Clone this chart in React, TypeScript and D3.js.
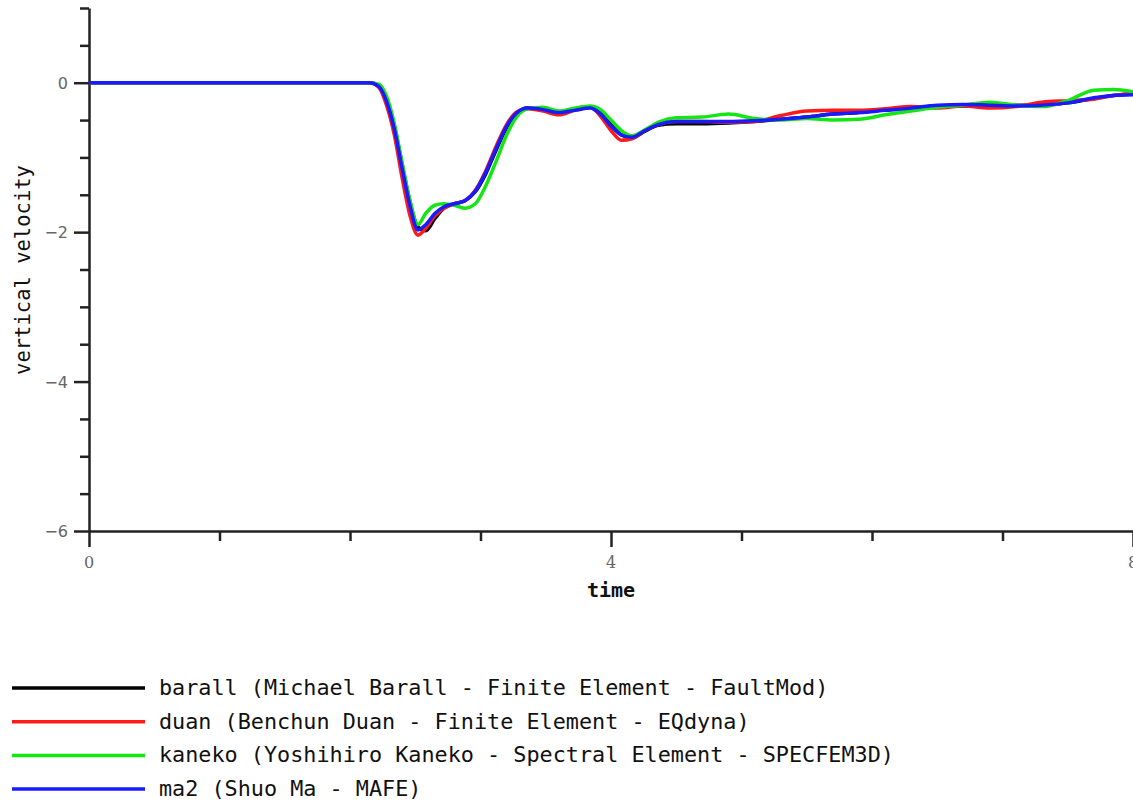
import * as d3 from "d3";
import React from "react";

// time samples shared by all four stations
const times = [
  0, 2.15, 2.22, 2.28, 2.34, 2.4, 2.46, 2.52, 2.58, 2.65, 2.72, 2.8, 2.88, 2.96,
  3.04, 3.12, 3.2, 3.28, 3.36, 3.48, 3.6, 3.72, 3.84, 3.92, 4.0, 4.08, 4.16,
  4.26, 4.36, 4.5, 4.7, 4.9, 5.1, 5.3, 5.5, 5.7, 5.9, 6.1, 6.3, 6.5, 6.7, 6.9,
  7.1, 7.3, 7.5, 7.7, 7.85, 8.0,
];

const barall = [
  0, 0, -0.04, -0.22, -0.58, -1.1, -1.6, -1.93, -1.98, -1.82, -1.68, -1.62,
  -1.58, -1.46, -1.22, -0.9, -0.6, -0.41, -0.34, -0.35, -0.4, -0.36, -0.33,
  -0.4, -0.56, -0.7, -0.74, -0.65, -0.57, -0.55, -0.55, -0.54, -0.52, -0.49,
  -0.46, -0.42, -0.4, -0.36, -0.34, -0.31, -0.31, -0.32, -0.3, -0.3, -0.27,
  -0.21, -0.17, -0.15,
];

const duan = [
  0, 0, -0.06, -0.3, -0.7, -1.28, -1.78, -2.04, -1.95, -1.78, -1.68, -1.62,
  -1.58, -1.44, -1.18, -0.85, -0.56, -0.39, -0.35, -0.38, -0.43, -0.37, -0.33,
  -0.45, -0.64, -0.77, -0.75, -0.64, -0.56, -0.52, -0.52, -0.53, -0.52, -0.44,
  -0.38, -0.37, -0.37, -0.35, -0.32, -0.34, -0.31, -0.34, -0.32, -0.26, -0.24,
  -0.22, -0.17, -0.14,
];

const kaneko = [
  0, 0, -0.02, -0.18, -0.55, -1.08, -1.58, -1.9, -1.75, -1.64, -1.62, -1.64,
  -1.68, -1.62, -1.38, -1.05, -0.7, -0.45, -0.35, -0.33, -0.38, -0.34, -0.31,
  -0.36, -0.5, -0.64, -0.71, -0.63, -0.53, -0.47, -0.46, -0.42, -0.48, -0.5,
  -0.48, -0.5, -0.49, -0.43, -0.38, -0.33, -0.3, -0.26, -0.3, -0.32, -0.24,
  -0.1, -0.09, -0.12,
];

const ma2 = [
  0, 0, -0.05, -0.25, -0.62, -1.15, -1.65, -1.97, -1.9, -1.75, -1.66, -1.62,
  -1.58, -1.45, -1.2, -0.88, -0.58, -0.4, -0.34, -0.36, -0.4, -0.37, -0.34,
  -0.42, -0.58, -0.7, -0.73, -0.64, -0.56, -0.52, -0.52, -0.52, -0.51, -0.49,
  -0.46, -0.42, -0.4, -0.37, -0.34, -0.3, -0.29, -0.3, -0.31, -0.3, -0.27,
  -0.2, -0.17, -0.16,
];

const seriesNames = [
  "barall (Michael Barall - Finite Element - FaultMod)",
  "duan (Benchun Duan - Finite Element - EQdyna)",
  "kaneko (Yoshihiro Kaneko - Spectral Element - SPECFEM3D)",
  "ma2 (Shuo Ma - MAFE)",
];
const seriesValues = [barall, duan, kaneko, ma2];
const seriesColors = ["#000000", "#ff1a1a", "#14e614", "#1a1aff"];

const xMajorTicks = [0, 4, 8];
const yMajorTicks = [0, -2, -4, -6];

const App = () => {
  const ref = React.useRef<SVGSVGElement>(null);

  React.useEffect(() => {
    document.body.style.margin = "0";
    const width = 1133,
      height = 801;
    const svg = d3.select(ref.current).attr("width", width).attr("height", height);
    svg.selectAll("*").remove();

    const x = d3.scaleLinear().domain([0, 8]).range([89, 1133]);
    const y = d3.scaleLinear().domain([-6, 1]).range([531, 8]);
    const axisColor = "#222";
    const mono = "'DejaVu Sans Mono', monospace";

    // y axis: minor ticks every 0.5, labels every 2
    const yAxis = d3
      .axisLeft(y)
      .tickValues(d3.range(-6, 1.01, 0.5))
      .tickSize(9)
      .tickSizeOuter(0)
      .tickFormat(() => "");
    const gy = svg.append("g").attr("transform", `translate(${x(0)},0)`).call(yAxis);
    gy.select(".domain").attr("stroke", axisColor).attr("stroke-width", 2.5);
    gy.selectAll(".tick line")
      .attr("stroke", axisColor)
      .attr("stroke-width", 2.5)
      .attr("x2", (d: any) => (yMajorTicks.includes(d) ? -15 : -9));

    svg
      .append("g")
      .selectAll("text")
      .data(yMajorTicks)
      .enter()
      .append("text")
      .attr("x", 68)
      .attr("y", (d) => y(d) + 6)
      .attr("text-anchor", "end")
      .attr("fill", "#666")
      .style("font-family", "'DejaVu Sans', sans-serif")
      .style("font-size", "16px")
      .text((d) => (d < 0 ? "\u2212" + Math.abs(d) : String(d)));

    // x axis: ticks every 1, labels at 0, 4, 8
    const xAxis = d3
      .axisBottom(x)
      .tickValues(d3.range(0, 8.01, 1))
      .tickSize(10)
      .tickSizeOuter(0)
      .tickFormat(() => "");
    const gx = svg.append("g").attr("transform", `translate(0,${y(-6)})`).call(xAxis);
    gx.select(".domain").attr("stroke", axisColor).attr("stroke-width", 2.5);
    gx.selectAll(".tick line")
      .attr("stroke", axisColor)
      .attr("stroke-width", 2.5)
      .attr("y2", (d: any) => (xMajorTicks.includes(d) ? 16 : 10));

    svg
      .append("g")
      .selectAll("text")
      .data(xMajorTicks)
      .enter()
      .append("text")
      .attr("x", (d) => x(d))
      .attr("y", 568)
      .attr("text-anchor", "middle")
      .attr("fill", "#666")
      .style("font-family", "'DejaVu Serif', serif")
      .style("font-size", "16px")
      .text((d) => d);

    // axis titles
    svg
      .append("text")
      .attr("x", x(4))
      .attr("y", 597)
      .attr("text-anchor", "middle")
      .attr("fill", "#111")
      .style("font-family", mono)
      .style("font-size", "20px")
      .style("font-weight", "bold")
      .text("time");

    svg
      .append("g")
      .attr("transform", `translate(30,270)`)
      .append("text")
      .attr("transform", "rotate(-90)")
      .attr("text-anchor", "middle")
      .attr("fill", "#111")
      .style("font-family", mono)
      .style("font-size", "20.5px")
      .text("vertical velocity");

    // curves
    const line = d3
      .line<number>()
      .x((d, i) => x(times[i]))
      .y((d) => y(d))
      .curve(d3.curveMonotoneX);

    svg
      .append("g")
      .selectAll("path")
      .data(seriesValues)
      .enter()
      .append("path")
      .attr("d", (d) => line(d))
      .attr("fill", "none")
      .attr("stroke", (d, i) => seriesColors[i])
      .attr("stroke-width", 3.5)
      .attr("stroke-linejoin", "round");

    // legend
    const legend = svg
      .append("g")
      .selectAll("g")
      .data(seriesNames)
      .enter()
      .append("g")
      .attr("transform", (d, i) => `translate(0,${688 + i * 33.7})`);
    legend
      .append("line")
      .attr("x1", 12)
      .attr("x2", 145)
      .attr("stroke", (d, i) => seriesColors[i])
      .attr("stroke-width", 3.5);
    legend
      .append("text")
      .attr("x", 159)
      .attr("y", 7)
      .attr("fill", "#111")
      .style("font-family", mono)
      .style("font-size", "21.8px")
      .text((d) => d);
  }, []);

  return <svg ref={ref} style={{ display: "block" }}></svg>;
};

export default App;
